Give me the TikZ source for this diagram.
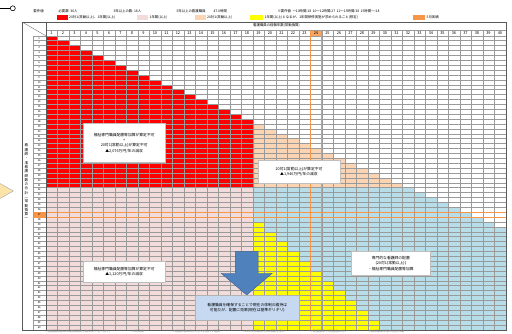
\documentclass[tikz,border=0pt]{standalone}
\usepackage{fontspec}
\setmainfont{Noto Sans CJK JP}
\usetikzlibrary{positioning}

\definecolor{cellred}{HTML}{FF0000}
\definecolor{cellpink}{HTML}{F2DCDB}
\definecolor{cellpeach}{HTML}{FBD4B4}
\definecolor{cellblue}{HTML}{B7DEE8}
\definecolor{cellyellow}{HTML}{FFFF00}
\definecolor{markorange}{HTML}{F79646}
\definecolor{arrowblue}{HTML}{4F81BD}
\definecolor{notefill}{HTML}{C6D9F1}
\definecolor{gridgray}{HTML}{9A9A9A}
\definecolor{hintfill}{HTML}{FCE4A8}

\tikzset{
  txt/.style={font=\fontsize{3.4}{4.4}\selectfont, inner sep=0.3pt},
  numtxt/.style={font=\fontsize{3.9}{4.4}\selectfont, inner sep=0pt},
  rowtxt/.style={font=\fontsize{2.6}{3}\selectfont, inner sep=0pt},
  foottxt/.style={font=\fontsize{3}{3.4}\selectfont, text=gray, inner sep=0pt, anchor=west},
  infobox/.style={draw=gray!50, fill=white, align=center, inner sep=0pt,
    font=\fontsize{3.8}{5.4}\selectfont},
  swatch/.style={minimum width=11pt, minimum height=5.5pt, inner sep=0pt},
  gridline/.style={gridgray, line width=0.25pt},
  markline/.style={markorange, line width=0.7pt},
}

\begin{document}
\begin{tikzpicture}[x=1pt, y=-1pt]
\useasboundingbox (0,0) rectangle (512,334);
\def \ncol {40}
\def \nrow {60}

% legend, first line
\node[txt, anchor=west] (reqlabel) at (33,11) {要件値};
\node[txt, anchor=west] (reqneed) at (58,11) {必要数:\ 36人};
\node[txt, anchor=west] (reqthree) at (113,11) {3年以上の数:\ 18人};
\node[txt, anchor=west] (reqfive) at (176,11) {5年以上の看護職員:};
\node[txt, anchor=west] (reqhours) at (213,11) {47.0時間};
\node[txt, anchor=west] (reqnote) at (277,11) {※要件値};
\node[txt, anchor=west] (reqsteps) at (292,11) {〜10時間:18\ \ 10〜12時間:27\ \ 12〜15時間:38\ \ 15時間〜:28};

% legend, second line
\node[swatch, fill=cellred] (keyred) at (62,17.7) {};
\node[txt, anchor=west, right=1pt of keyred] (keyredtxt) {20対1(常勤以上)、1年間(以上)};
\node[swatch, fill=cellpink] (keypink) at (142.5,17.7) {};
\node[txt, anchor=west, right=1pt of keypink] (keypinktxt) {1年間(以上)};
\node[swatch, fill=cellpeach] (keypeach) at (200,17.7) {};
\node[txt, anchor=west, right=1pt of keypeach] (keypeachtxt) {20対1(常勤以上)};
\node[swatch, fill=cellyellow, minimum width=13pt] (keyyellow) at (256.5,17.7) {};
\node[txt, anchor=west, right=1pt of keyyellow] (keyyellowtxt) {1年間(以上)となるが、1年間研修実施が求められること(想定)};
\node[swatch, fill=markorange, minimum width=12pt] (keyorange) at (419,17.7) {};
\node[txt, anchor=west, right=1pt of keyorange] (keyorangetxt) {5月実績};

% table
\begin{scope}[xshift=45.7pt, yshift=-35.7pt, x=11.5pt, y=-4.9pt]
  % coloured cells
  \foreach \c in {1,...,18}
    \fill[cellred] (\c-1,\c-1) rectangle (\c,31);
  \fill[cellpink] (0,31) rectangle (18,\nrow);
  \foreach \c in {19,...,31}
    \fill[cellpeach] (\c-1,\c-1) rectangle (\c,31);
  \fill[cellblue] (18,31) rectangle (31,\nrow);
  \foreach \c in {32,...,\ncol}
    \fill[cellblue] (\c-1,\c-1) rectangle (\c,\nrow);
  \foreach \c in {19,...,29}
    \fill[cellyellow] (\c-1,2*\c) rectangle (\c,\nrow);

  % highlighted cells
  \fill[markorange!85] (23,-1.22) rectangle (24,0);
  \fill[markorange] (-1.13,36) rectangle (0,37);

  % grid
  \foreach \r in {0,...,\nrow}
    \draw[gridline] (-1.13,\r) -- (\ncol,\r);
  \foreach \c in {0,...,\ncol}
    \draw[gridline] (\c,-1.22) -- (\c,\nrow);
  \draw[gridline] (-1.13,0) -- (-1.13,\nrow);
  \draw[gridline] (0,-1.22) -- (\ncol,-1.22);

  % orange marks
  \draw[markline] (23,-1.22) -- (23,\nrow);
  \draw[markline] (24,-1.22) -- (24,\nrow);
  \draw[markline] (-1.13,36) -- (\ncol,36);
  \draw[markline] (-1.13,37) -- (\ncol,37);

  % frame
  \draw[gray!70!black, line width=0.35pt] (-2.06,-2.8) rectangle (\ncol,\nrow);
  \draw[gray!70!black, line width=0.35pt] (0,-2.8) -- (0,\nrow);
  \draw[gray!70!black, line width=0.3pt] (-2.06,-2.8) -- (0,0);

  \foreach \c in {1,...,\ncol}
    \node[numtxt] (col\c) at (\c-0.5,-0.61) {\c};
  \foreach \r in {1,...,\nrow}
    \node[rowtxt] (row\r) at (-0.565,\r-0.5) {\r};
  \node[txt, anchor=west] (agehead) at (18,-2.08) {看護職員の経験年数(常勤換算)};
\end{scope}

% side label, written top to bottom
\node[txt, align=center, font=\fontsize{3.6}{4.3}\selectfont] (sidelabel) at (26.5,182)
  {看\\護\\師\\・\\准\\看\\護\\師\\数\\の\\合\\計\\︵\\常\\勤\\換\\算\\︶};

% notes
\node[infobox, minimum width=81.7pt, minimum height=39.4pt] (redbox) at (124.2,143)
  {福祉専門職員配置等加算が算定不可\\+\\20対1(常勤以上)が算定不可\\▲2,076万円/年の減収};
\node[infobox, minimum width=82pt, minimum height=22.5pt] (peachbox) at (299,171.8)
  {20対1(常勤以上)が算定不可\\▲1,946万円/年の減収};
\node[infobox, minimum width=78.3pt, minimum height=23.3pt] (bluebox) at (390.8,263.3)
  {専門的な看護師の配置\\(20対1(常勤以上))\\・福祉専門職員配置等加算};
\node[infobox, minimum width=81.7pt, minimum height=20pt] (pinkbox) at (124.2,271.7)
  {福祉専門職員配置等加算が算定不可\\▲1,120万円/年の減収};

% big arrow
\filldraw[fill=arrowblue, draw=arrowblue!75!black, line width=0.4pt]
  (235.3,251.7) -- (258.1,251.7) -- (258.1,273.3) -- (272.2,273.3)
  -- (246.7,295) -- (221.2,273.3) -- (235.3,273.3) -- cycle;
\node[infobox, fill=notefill, draw=gray!60, minimum width=104pt, minimum height=25pt] (resultbox) at (247.3,308)
  {看護職員を確保することで現在の体制の維持は\\可能だが、配置に効果(現在は基準ギリギリ)};

% pointer at the left edge
\filldraw[fill=hintfill, draw=gray!70, line width=0.4pt] (0,183.5) -- (13.3,191) -- (0,198.5);
% mark at the top left
\coordinate (markstart) at (0,8.3);
\node[draw, circle, line width=0.6pt, minimum size=5pt, inner sep=0pt] (markring) at (12.8,8.3) {};
\draw[line width=0.8pt] (markstart) -- (markring);

% footnotes
\node[foottxt] (foot1) at (45,331.8) {※看護職員数は常勤換算数(小数点以下切り捨て)};
\node[foottxt] (foot2) at (130,331.8) {※5月実績};
\node[foottxt] (foot3) at (172,331.8) {※経験年数は法人内外を問わず通算};
\node[foottxt] (foot4) at (242,331.8) {※20対1(常勤以上)は夜勤を含む};
\node[foottxt] (foot5) at (310,331.8) {※配置基準:入院患者20対1};
\node[foottxt] (foot6) at (368,331.8) {※減収額は年間の見込み額};
\end{tikzpicture}
\end{document}
